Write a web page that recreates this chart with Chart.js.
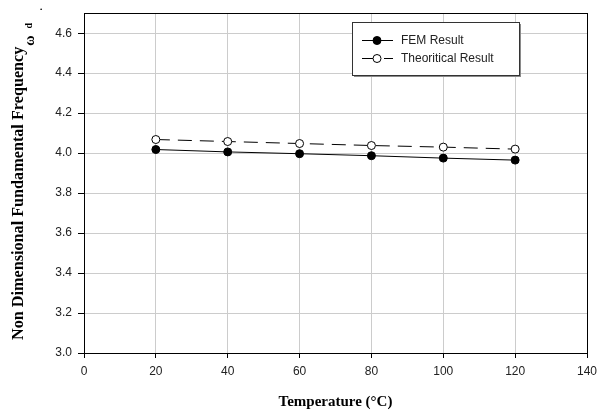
<!DOCTYPE html>
<html>
<head>
<meta charset="utf-8">
<script src="https://cdn.jsdelivr.net/npm/chart.js@4.4.1/dist/chart.umd.min.js"></script>
<style>
  html, body { margin: 0; padding: 0; background: #fff; }
  #wrap { width: 609px; height: 412px; }
</style>
</head>
<body>
<div id="wrap"><canvas id="freqChart"></canvas></div>
<script>
// Temperature sweep and the two frequency series
const temperatures = [20, 40, 60, 80, 100, 120];
const femResult = [4.018, 4.006, 3.997, 3.987, 3.975, 3.965];
const theoreticalResult = [4.068, 4.058, 4.048, 4.038, 4.030, 4.020];
const seriesNames = ['FEM Result', 'Theoritical Result'];
const xTickValues = [0, 20, 40, 60, 80, 100, 120, 140];
const yTickValues = [3.0, 3.2, 3.4, 3.6, 3.8, 4.0, 4.2, 4.4, 4.6];

const tickFont = { family: 'Liberation Sans, Arial, sans-serif', size: 12 };
const titleFont = 'bold 15px "Liberation Serif", "Times New Roman", serif';

const toPoints = (vals) => vals.map((v, i) => ({ x: temperatures[i], y: v }));

// Box around the plot, axis titles and the boxed legend
const decorPlugin = {
  id: 'decor',
  beforeDatasetsDraw(chart) {
    const { ctx, chartArea: a } = chart;
    ctx.save();
    ctx.strokeStyle = '#000';
    ctx.lineWidth = 1;
    ctx.strokeRect(Math.round(a.left) + 0.5, Math.round(a.top) + 0.5,
      Math.round(a.right - a.left), Math.round(a.bottom - a.top));
    ctx.restore();
  },
  afterDatasetsDraw(chart) {
    const { ctx, chartArea: a } = chart;
    ctx.save();

    // x title
    ctx.fillStyle = '#000';
    ctx.font = titleFont;
    ctx.textAlign = 'center';
    ctx.textBaseline = 'middle';
    ctx.fillText('Temperature (°C)', (a.left + a.right) / 2, 402);

    // y title, rotated, with the omega_d symbol at its end
    ctx.save();
    ctx.translate(23, 340);
    ctx.rotate(-Math.PI / 2);
    ctx.textAlign = 'left';
    ctx.textBaseline = 'alphabetic';
    const main = 'Non Dimensional Fundamental Frequency';
    ctx.font = titleFont;
    const size = 15 * 293 / ctx.measureText(main).width;
    ctx.font = 'bold ' + size.toFixed(1) + 'px "Liberation Serif", "Times New Roman", serif';
    ctx.fillText(main, 0, 0);
    const w = ctx.measureText(main).width;
    ctx.font = 'bold 14px "Liberation Serif", serif';
    ctx.fillText('ω', w + 1, 11);
    const ww = ctx.measureText('ω').width;
    ctx.font = 'bold 10px "Liberation Serif", serif';
    ctx.fillText('d', w + ww + 8, 9);
    ctx.fillText('.', w + ww + 26, 19);
    ctx.restore();

    // legend
    const lx = 352, ly = 22, lw = 167, lh = 53;
    ctx.fillStyle = '#8a8a8a';
    ctx.fillRect(lx + 2, ly + 2, lw, lh);
    ctx.fillStyle = '#fff';
    ctx.fillRect(lx, ly, lw, lh);
    ctx.strokeStyle = '#333';
    ctx.lineWidth = 1;
    ctx.strokeRect(lx + 0.5, ly + 0.5, lw, lh);

    const rows = [40, 58];
    chart.data.datasets.forEach((ds, i) => {
      const y = rows[i] + 0.5;
      ctx.strokeStyle = ds.borderColor;
      ctx.lineWidth = ds.borderWidth;
      ctx.setLineDash(ds.borderDash || []);
      ctx.beginPath();
      ctx.moveTo(362, y);
      ctx.lineTo(393, y);
      ctx.stroke();
      ctx.setLineDash([]);
      ctx.fillStyle = ds.pointBackgroundColor;
      ctx.strokeStyle = ds.pointBorderColor;
      ctx.beginPath();
      ctx.arc(377, y, ds.pointRadius, 0, Math.PI * 2);
      ctx.fill();
      ctx.stroke();
      ctx.fillStyle = '#222';
      ctx.font = '12px "Liberation Sans", Arial, sans-serif';
      ctx.textAlign = 'left';
      ctx.textBaseline = 'middle';
      ctx.fillText(ds.label, 401, y);
    });
    ctx.restore();
  }
};

new Chart(document.getElementById('freqChart'), {
  type: 'line',
  data: {
    datasets: [
      {
        label: seriesNames[0],
        data: toPoints(femResult),
        borderColor: '#000',
        borderWidth: 1,
        pointRadius: 4,
        pointBackgroundColor: '#000',
        pointBorderColor: '#000',
        pointBorderWidth: 1,
        tension: 0
      },
      {
        label: seriesNames[1],
        data: toPoints(theoreticalResult),
        borderColor: '#000',
        borderWidth: 1,
        borderDash: [14, 8],
        pointRadius: 4,
        pointBackgroundColor: '#fff',
        pointBorderColor: '#000',
        pointBorderWidth: 1,
        tension: 0
      }
    ]
  },
  options: {
    responsive: true,
    maintainAspectRatio: false,
    animation: false,
    layout: { padding: { top: 11, right: 22, left: 0, bottom: 0 } },
    plugins: { legend: { display: false }, tooltip: { enabled: false } },
    scales: {
      x: {
        type: 'linear',
        min: 0,
        max: 140,
        afterBuildTicks: (s) => { s.ticks = xTickValues.map(v => ({ value: v })); },
        afterFit: (s) => { s.height = 59; },
        border: { display: false },
        grid: { color: '#cccccc', tickColor: '#000', tickLength: 5 },
        ticks: { font: tickFont, color: '#222', padding: 6, maxRotation: 0 }
      },
      y: {
        min: 3.0,
        max: 4.7,
        afterBuildTicks: (s) => { s.ticks = yTickValues.map(v => ({ value: v })); },
        afterFit: (s) => { s.width = 84; },
        border: { display: false },
        grid: { color: '#cccccc', tickColor: '#000', tickLength: 6 },
        ticks: { font: tickFont, color: '#222', padding: 6, callback: (v) => v.toFixed(1) }
      }
    }
  },
  plugins: [decorPlugin]
});
</script>
</body>
</html>
